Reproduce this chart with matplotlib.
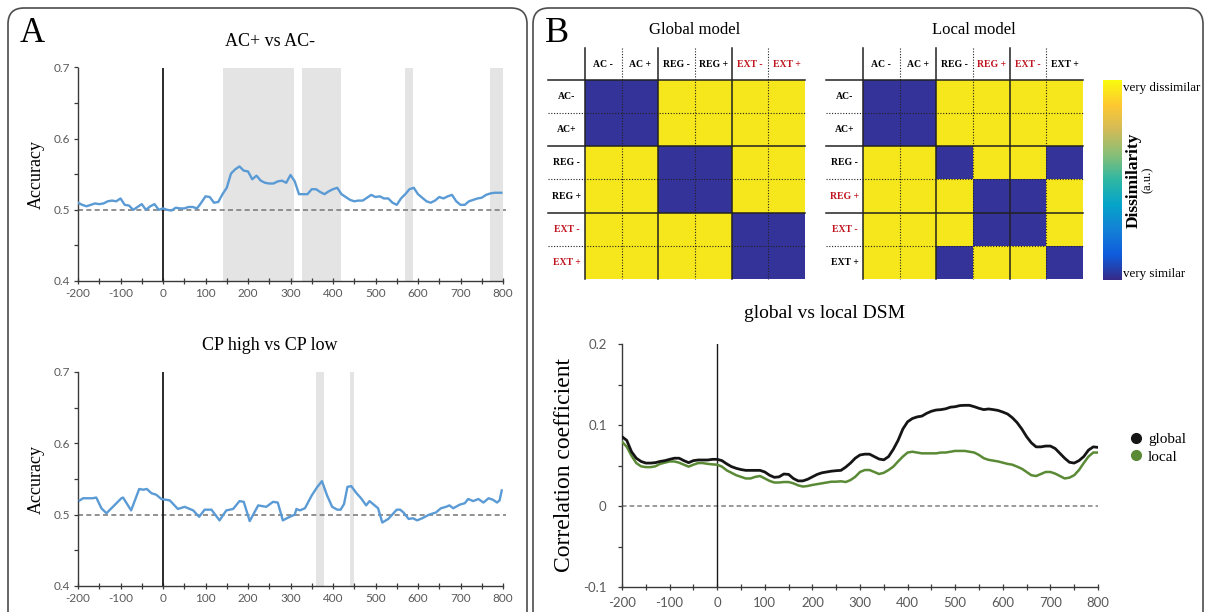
import numpy as np
import matplotlib
matplotlib.use('Agg')
import matplotlib.pyplot as plt
from matplotlib.patches import FancyBboxPatch
from matplotlib.colors import ListedColormap, LinearSegmentedColormap
from matplotlib.transforms import IdentityTransform
from matplotlib.ticker import MultipleLocator, FuncFormatter
from matplotlib.lines import Line2D

# ----- data -----
# panel A, top: AC+ vs AC- (10 ms steps from -200 to 790, last point at 796)
time_ac = list(range(-200, 800, 10)) + [796]
acc_ac = [0.510, 0.507, 0.505, 0.507, 0.509, 0.508, 0.509, 0.512, 0.513, 0.512,
          0.516, 0.507, 0.506, 0.500, 0.504, 0.508, 0.500, 0.505, 0.508, 0.500,
          0.502, 0.500, 0.499, 0.503, 0.502, 0.502, 0.504, 0.504, 0.502, 0.510,
          0.519, 0.518, 0.510, 0.511, 0.522, 0.531, 0.551, 0.557, 0.561, 0.555,
          0.554, 0.543, 0.548, 0.541, 0.538, 0.537, 0.537, 0.540, 0.541, 0.538,
          0.549, 0.540, 0.522, 0.522, 0.522, 0.529, 0.529, 0.525, 0.522, 0.526,
          0.529, 0.531, 0.522, 0.518, 0.514, 0.512, 0.513, 0.513, 0.517, 0.521,
          0.518, 0.519, 0.516, 0.516, 0.510, 0.507, 0.516, 0.522, 0.529, 0.531,
          0.522, 0.517, 0.512, 0.510, 0.513, 0.518, 0.516, 0.519, 0.521, 0.512,
          0.507, 0.507, 0.512, 0.514, 0.516, 0.517, 0.521, 0.523, 0.524, 0.524,
          0.524]
sig_ac = [(140, 308), (328, 418), (570, 589), (770, 800)]

# panel A, bottom: CP high vs CP low
time_cp = [-196, -188, -176, -166, -157, -145, -133, -118, -98, -94, -75, -56, -47, -38,
           -27, -16, -4, 6, 16, 35, 51, 71, 85, 98, 114, 133, 149, 165, 180, 190,
           204, 224, 243, 259, 270, 282, 298, 310, 314, 322, 334, 350, 362, 374,
           386, 398, 410, 418, 426, 434, 443, 454, 466, 478, 486, 498, 506, 516,
           530, 550, 558, 566, 578, 588, 598, 610, 626, 642, 654, 666, 674, 683,
           698, 710, 718, 730, 742, 754, 766, 776, 786, 792, 797]
acc_cp = [0.520, 0.523, 0.523, 0.523, 0.524, 0.509, 0.502, 0.511, 0.523, 0.524, 0.506, 0.536, 0.535, 0.536,
          0.530, 0.528, 0.522, 0.521, 0.520, 0.508, 0.511, 0.506, 0.497, 0.507, 0.507, 0.492, 0.506, 0.508, 0.519, 0.518,
          0.491, 0.513, 0.511, 0.518, 0.517, 0.492, 0.497, 0.500, 0.508, 0.506, 0.509, 0.527, 0.538, 0.547,
          0.527, 0.511, 0.507, 0.507, 0.515, 0.539, 0.540, 0.531, 0.523, 0.513, 0.519, 0.513, 0.509, 0.489,
          0.494, 0.507, 0.507, 0.503, 0.494, 0.495, 0.492, 0.495, 0.500, 0.503, 0.509, 0.511, 0.513, 0.509,
          0.514, 0.516, 0.522, 0.519, 0.522, 0.517, 0.523, 0.521, 0.517, 0.520, 0.534]
sig_cp = [(360, 378), (439, 449)]

# panel B, model DSMs (0 = very similar, 1 = very dissimilar)
conditions_col = ['AC -', 'AC +', 'REG -', 'REG +', 'EXT -', 'EXT +']
conditions_row = ['AC-', 'AC+', 'REG -', 'REG +', 'EXT -', 'EXT +']
global_dsm = [[0, 0, 1, 1, 1, 1],
              [0, 0, 1, 1, 1, 1],
              [1, 1, 0, 0, 1, 1],
              [1, 1, 0, 0, 1, 1],
              [1, 1, 1, 1, 0, 0],
              [1, 1, 1, 1, 0, 0]]
local_dsm = [[0, 0, 1, 1, 1, 1],
             [0, 0, 1, 1, 1, 1],
             [1, 1, 0, 1, 1, 0],
             [1, 1, 1, 0, 0, 1],
             [1, 1, 1, 0, 0, 1],
             [1, 1, 0, 1, 1, 0]]
global_red = [False, False, False, False, True, True]
local_red = [False, False, False, True, True, False]

# panel B, bottom: correlation with model DSMs (10 ms steps)
time_corr = list(range(-200, 801, 10))
corr_global = [0.0856, 0.081, 0.067, 0.059, 0.055, 0.053, 0.053, 0.0535, 0.055, 0.056,
               0.0576, 0.059, 0.059, 0.056, 0.0535, 0.056, 0.0568, 0.0568, 0.0568, 0.0576,
               0.0576, 0.056, 0.052, 0.0486, 0.0465, 0.045, 0.044, 0.044, 0.044, 0.044,
               0.042, 0.038, 0.0354, 0.036, 0.0395, 0.039, 0.034, 0.031, 0.031, 0.033,
               0.036, 0.039, 0.041, 0.042, 0.043, 0.0436, 0.044, 0.048, 0.053, 0.059,
               0.063, 0.064, 0.064, 0.061, 0.058, 0.057, 0.061, 0.070, 0.081, 0.095,
               0.104, 0.108, 0.110, 0.111, 0.1144, 0.117, 0.1185, 0.119, 0.120, 0.122,
               0.1226, 0.124, 0.1243, 0.1243, 0.1226, 0.1206, 0.119, 0.1198, 0.119, 0.118,
               0.116, 0.1136, 0.109, 0.103, 0.095, 0.0856, 0.078, 0.073, 0.073, 0.074,
               0.074, 0.071, 0.065, 0.059, 0.054, 0.053, 0.056, 0.061, 0.069, 0.073, 0.0724]
corr_local = [0.0794, 0.073, 0.062, 0.053, 0.049, 0.048, 0.048, 0.049, 0.052, 0.0535,
              0.055, 0.055, 0.0535, 0.051, 0.0486, 0.051, 0.053, 0.053, 0.052, 0.0514,
              0.051, 0.0486, 0.044, 0.041, 0.038, 0.036, 0.034, 0.034, 0.036, 0.037,
              0.034, 0.031, 0.029, 0.029, 0.0296, 0.0296, 0.028, 0.0255, 0.024, 0.0247,
              0.026, 0.027, 0.028, 0.029, 0.030, 0.030, 0.0305, 0.0296, 0.032, 0.036,
              0.042, 0.0444, 0.0444, 0.042, 0.0395, 0.041, 0.0444, 0.0486, 0.055, 0.061,
              0.066, 0.067, 0.066, 0.065, 0.065, 0.065, 0.065, 0.066, 0.066, 0.067,
              0.068, 0.068, 0.068, 0.067, 0.066, 0.063, 0.059, 0.057, 0.056, 0.055,
              0.0535, 0.052, 0.051, 0.0486, 0.046, 0.042, 0.038, 0.037, 0.0395, 0.042,
              0.042, 0.040, 0.037, 0.034, 0.035, 0.038, 0.0444, 0.053, 0.061, 0.066, 0.066]

# ----- style -----
SERIF = 'Liberation Serif'
plt.rcParams['font.family'] = ['Lato', 'DejaVu Sans']
plt.rcParams['axes.unicode_minus'] = False
TICK_GREY = '#595959'
SPINE = '#3a3a3a'
RED = '#C0151F'

W, H = 1209, 612
fig = plt.figure(figsize=(W / 100, H / 100), dpi=100)


def ax_px(left, top, right, bottom):
    # axes from pixel box (origin top-left)
    return fig.add_axes([left / W, 1 - bottom / H, (right - left) / W, (bottom - top) / H])


def fig_text(x, y, s, **kw):
    fig.text(x / W, 1 - y / H, s, **kw)


def tick_fmt(v, p):
    if abs(v) < 1e-9:
        return '0'
    return f'{round(v, 2):g}'


def style_axis(ax, ylim, ymaj, ymin, size=8.5, xpad=3, ypad=3):
    ax.set_xlim(-200, 800)
    ax.set_ylim(*ylim)
    for s in ['top', 'right']:
        ax.spines[s].set_visible(False)
    for s in ['left', 'bottom']:
        ax.spines[s].set_color(SPINE)
        ax.spines[s].set_linewidth(1.0)
    ax.xaxis.set_major_locator(MultipleLocator(100))
    ax.xaxis.set_minor_locator(MultipleLocator(50))
    ax.yaxis.set_major_locator(MultipleLocator(ymaj))
    ax.yaxis.set_minor_locator(MultipleLocator(ymin))
    ax.yaxis.set_major_formatter(FuncFormatter(tick_fmt))
    ax.tick_params(axis='x', which='both', direction='inout', length=4, width=0.9,
                   color=SPINE, labelsize=size, labelcolor=TICK_GREY, pad=xpad)
    ax.tick_params(axis='y', which='both', direction='out', length=3, width=0.9,
                   color=SPINE, labelsize=size, labelcolor=TICK_GREY, pad=ypad)


def accuracy_panel(ax, t, acc, spans, title_y, title):
    for a, b in spans:
        ax.axvspan(a, b, color='#E4E4E4', lw=0, zorder=0)
    ax.plot([-200, 806], [0.5, 0.5], color='#7f7f7f', lw=1.2, ls=(0, (3, 2)), clip_on=False, zorder=1)
    ax.plot([0, 0], [0.4, 0.7], color='#1a1a1a', lw=1.3, zorder=2)
    ax.plot(t, acc, color='#5B9BD5', lw=1.7, zorder=3)
    style_axis(ax, (0.4, 0.7), 0.1, 0.05)
    ax.set_ylabel('Accuracy', fontfamily=SERIF, fontsize=13, labelpad=6)
    fig_text(270, title_y, title, fontfamily=SERIF, fontsize=13, ha='center', va='center')


# ----- panel frames -----
for x0, x1 in [(8, 527), (533, 1203)]:
    fig.add_artist(FancyBboxPatch((x0, -40), x1 - x0, H - 8 + 40,
                                  boxstyle='round,pad=0,rounding_size=16',
                                  transform=IdentityTransform(), fill=False,
                                  ec='#4d4d4d', lw=1.2))

fig_text(32, 42, 'A', fontfamily=SERIF, fontsize=25, ha='center', va='baseline')
fig_text(557, 42, 'B', fontfamily=SERIF, fontsize=26, ha='center', va='baseline')

# ----- panel A -----
ax1 = ax_px(78, 67.5, 503, 281)
accuracy_panel(ax1, time_ac, acc_ac, sig_ac, 41, 'AC+ vs AC-')

ax2 = ax_px(78, 372, 503, 586)
accuracy_panel(ax2, time_cp, acc_cp, sig_cp, 345, 'CP high vs CP low')

# ----- panel B: DSMs -----
cell_cmap = ListedColormap(['#333399', '#F6E71C'])


def draw_dsm(left, dsm, red_flags, title, title_x):
    ax = ax_px(left, 80, left + 220, 279)
    ax.imshow(np.array(dsm), cmap=cell_cmap, vmin=0, vmax=1, extent=(0, 6, 6, 0),
              aspect='auto', interpolation='nearest')
    ax.set_xlim(0, 6)
    ax.set_ylim(6, 0)
    ax.axis('off')
    for k in range(6):
        if k % 2 == 0:
            kw = dict(color='#222222', lw=1.1)
        else:
            kw = dict(color='#222222', lw=0.8, ls=(0, (1, 1.5)))
        ax.plot([-1.0, 6], [k, k], clip_on=False, **kw)
        ax.plot([k, k], [-0.97, 6], clip_on=False, **kw)
    for i in range(6):
        c = RED if red_flags[i] else 'black'
        ax.text(i + 0.5, -0.48, conditions_col[i], ha='center', va='center', fontsize=7,
                fontweight='bold', fontfamily=SERIF, color=c)
        ax.text(-0.5, i + 0.5, conditions_row[i], ha='center', va='center', fontsize=7,
                fontweight='bold', fontfamily=SERIF, color=c)
    fig_text(title_x, 30, title, fontfamily=SERIF, fontsize=12, ha='center', va='center')


draw_dsm(585, global_dsm, global_red, 'Global model', 695)
draw_dsm(863, local_dsm, local_red, 'Local model', 974)

# colour bar
parula = LinearSegmentedColormap.from_list('parula_like', [
    '#352A87', '#0F5CDD', '#1481D6', '#06A4CA', '#2EB7A4',
    '#87BF77', '#D1BB59', '#FEC832', '#F9FB0E'])
cax = ax_px(1103, 80, 1122, 280)
cax.imshow(np.linspace(1, 0, 256).reshape(-1, 1), cmap=parula, aspect='auto',
           extent=(0, 1, 0, 1))
cax.axis('off')
fig_text(1123, 88, 'very dissimilar', fontfamily=SERIF, fontsize=9.4, ha='left', va='center')
fig_text(1123, 274, 'very similar', fontfamily=SERIF, fontsize=9.4, ha='left', va='center')
fig_text(1134, 180, 'Dissimilarity', fontfamily=SERIF, fontsize=12.5, fontweight='bold',
         rotation=90, ha='center', va='center')
fig_text(1148, 180, '(a.u.)', fontfamily=SERIF, fontsize=9, rotation=90, ha='center', va='center')

# ----- panel B: correlation time course -----
ax3 = ax_px(622, 344, 1098, 587)
ax3.plot([-200, 800], [0, 0], color='#7f7f7f', lw=1.1, ls=(0, (3, 2)), zorder=1)
ax3.plot([0, 0], [-0.1, 0.2], color='#1a1a1a', lw=1.0, zorder=2)
ax3.plot(time_corr, corr_local, color='#5A8A35', lw=1.8, zorder=3)
ax3.plot(time_corr, corr_global, color='#151515', lw=2.0, zorder=4)
style_axis(ax3, (-0.1, 0.2), 0.1, 0.05, size=9.5, xpad=5, ypad=8)
ax3.set_ylabel('Correlation coefficient', fontfamily=SERIF, fontsize=17, labelpad=6)
fig_text(825, 313, 'global vs local DSM', fontfamily=SERIF, fontsize=14, ha='center', va='center')

handles = [Line2D([], [], ls='none', marker='o', ms=7, color='#151515'),
           Line2D([], [], ls='none', marker='o', ms=7, color='#5A8A35')]
fig.legend(handles, ['global', 'local'], loc='center left',
           bbox_to_anchor=(1119 / W, 1 - 448 / H), frameon=False,
           prop={'family': SERIF, 'size': 11}, handletextpad=0.2,
           labelspacing=0.25, handlelength=1.2, borderpad=0)

fig.savefig('out.png', dpi=100)
